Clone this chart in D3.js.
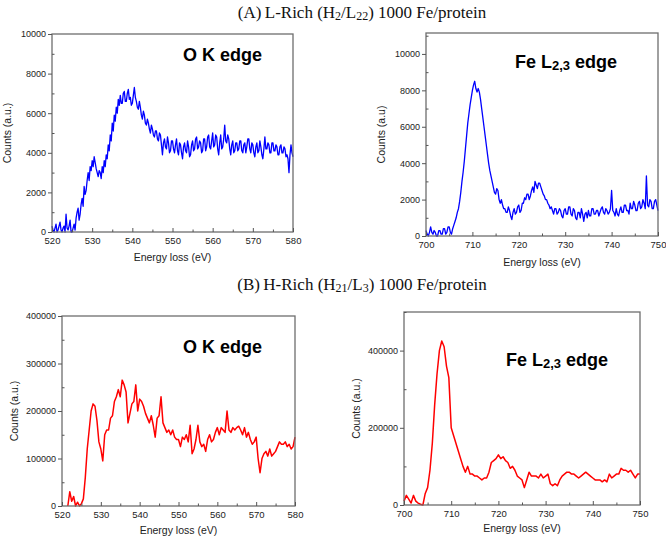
<!DOCTYPE html>
<html><head><meta charset="utf-8">
<script src="https://cdn.jsdelivr.net/npm/d3@7"></script>
<style>body{margin:0;background:#fff}svg{display:block}</style>
</head><body>
<svg id="c" width="666" height="537"></svg>
<script>
// ---- Data ----
const titleA = "(A)\u2009L-Rich (H<sub>2</sub>/L<sub>22</sub>) 1000 Fe/protein";
const titleB = "(B)\u2009H-Rich (H<sub>21</sub>/L<sub>3</sub>) 1000 Fe/protein";

// Panel A1: O K edge (blue), energies start 520, step 0.25 eV
const a1Start = 520, a1Step = 0.25;
const a1Counts = [
300,100,0,200, 400,0,100,300, 500,100,0,200, 300,0,900,200, 100,300,600,0,
0,200,400,100, 700,1000,1200,600, 900,1400,1700,1300, 2300,1900,2100,2600, 3000,2600,3300,3100,
3600,3300,3800,3500, 3200,3000,2800,3100, 3000,2700,3300,3000, 3600,3300,3900,3700, 4400,4100,4900,4600,
5500,5100,5900,5600, 6300,6000,6700,6400, 6900,6500,6500,7000, 7100,6600,6600,7000, 7200,6700,6800,6400,
6500,6900,7300,6800, 6600,6300,6200,6600, 6300,5900,5700,6100, 5900,5500,5400,5700, 5500,5200,5000,5400,
5200,4900,4800,5100, 5100,4700,4600,5000, 4900,4400,3900,4500, 4700,4300,4200,4800, 4500,4000,4100,4600,
4600,4200,4000,4400, 4700,4100,3900,4500, 4400,4000,3700,4300, 4500,4100,4000,4600, 4300,3800,3900,4400,
4600,4100,4200,4700, 4800,4200,4300,4600, 4500,4000,4100,4700, 4700,4100,4300,4800, 4900,4300,4200,4600,
5000,4300,4400,4900, 4800,4200,3900,4500, 4900,4200,4300,4700, 5400,4600,4500,4900, 4700,4200,3900,4400,
4600,4000,4100,4500, 4500,4100,4200,4600, 4600,4100,4000,4400, 4500,4000,4300,4700, 4700,4200,4000,4500,
4400,4000,3800,4300, 4500,4000,4100,4600, 4300,3900,3700,4200, 4800,4200,4200,4500, 4400,4000,4000,4500,
4500,4100,4100,4400, 4300,3900,3900,4300, 4400,4000,4000,4300, 4200,3800,3900,3700, 3000,3900,4400,4000,
3800];
const a1XTicks = [520,530,540,550,560,570,580];
const a1YTicks = [0,2000,4000,6000,8000,10000];

// Panel A2: Fe L2,3 edge (blue), energies start 700, step 0.25 eV
const a2Start = 700, a2Step = 0.25;
const a2Counts = [
300,100,0,200, 500,200,100,300, 200,0,0,300, 300,100,100,400, 400,100,200,500,
500,200,100,400, 600,800,1000,1300, 1500,1900,2400,3000, 3500,4100,4800,5500, 6200,6700,7200,7600,
8000,8300,8500,8100, 7900,8100,7900,7500, 7000,6500,6000,5500, 5000,4500,4000,3600, 3300,3000,2700,2400,
2300,2600,2500,2000, 1800,2000,1700,1500, 1500,1300,1300,1600, 1400,1100,900,1300, 1500,1200,1300,1600,
1700,1300,1400,1800, 1800,2100,2000,2300, 2300,2000,2200,2500, 2700,2400,3000,2800, 2600,2900,2900,2700,
2500,2300,2200,2000, 2000,1800,1700,1500, 1600,1400,1200,1500, 1500,1200,1300,1500, 1400,1100,1000,1400,
1500,1200,1200,1600, 1600,1200,1100,1500, 1400,1000,900,1300, 1300,1000,1500,1200, 800,1200,1300,1000,
1400,1100,1100,1500, 1500,1200,1200,1400, 1400,1100,1300,1500, 1600,1300,1200,1500, 1400,1200,1300,1500,
2500,1400,1300,1100, 1500,1200,1100,1400, 1600,1300,1300,1700, 1700,1400,1400,1200, 1800,1500,1500,1900,
1700,1400,1400,1800, 1900,1500,1600,2000, 1800,1500,3300,1700, 1600,2000,1900,1500, 1500,1900,2000,1700,
1400];
const a2XTicks = [700,710,720,730,740,750];
const a2YTicks = [0,2000,4000,6000,8000,10000];

// Panel B1: O K edge (red), energies start 521.5, step 0.5 eV
const b1Start = 521.5, b1Step = 0.5;
const b1Counts = [0,30000,10000,20000,0,8000,0,5000,15000,60000,120000,160000,200000,215000,210000,180000,
135000,120000,95000,150000,160000,160000,185000,190000,220000,230000,245000,230000,265000,255000,240000,
175000,195000,215000,220000,255000,200000,225000,220000,210000,195000,185000,175000,190000,170000,145000,
185000,190000,230000,175000,165000,155000,160000,150000,160000,145000,140000,140000,125000,145000,140000,
150000,135000,170000,110000,120000,140000,170000,135000,125000,130000,115000,140000,150000,135000,140000,
155000,165000,150000,165000,160000,155000,200000,160000,155000,165000,160000,165000,168000,160000,150000,
165000,145000,155000,140000,130000,135000,145000,100000,70000,100000,110000,115000,105000,120000,105000,
110000,115000,125000,135000,130000,130000,135000,125000,130000,120000,125000,145000];
const b1XTicks = [520,530,540,550,560,570,580];
const b1YTicks = [0,100000,200000,300000,400000];

// Panel B2: Fe L2,3 edge (red), energies start 700, step 0.5 eV
const b2Start = 700, b2Step = 0.5;
const b2Counts = [10000,25000,15000,5000,25000,10000,5000,2000,0,30000,45000,90000,160000,260000,340000,
400000,425000,410000,360000,330000,200000,180000,160000,140000,120000,100000,85000,100000,80000,80000,
75000,75000,70000,65000,70000,70000,85000,110000,115000,120000,130000,120000,125000,115000,110000,95000,
100000,90000,75000,70000,65000,45000,65000,85000,75000,75000,75000,70000,80000,70000,75000,80000,55000,
50000,55000,50000,65000,75000,80000,85000,85000,80000,80000,75000,70000,75000,80000,85000,80000,75000,
70000,65000,65000,65000,60000,65000,60000,80000,70000,75000,80000,80000,95000,90000,90000,85000,90000,
80000,70000,80000,80000];
const b2XTicks = [700,710,720,730,740,750];
const b2YTicks = [0,200000,400000];

// ---- Drawing ----
const svg = d3.select("#c");

function title(html, y) {
  svg.append("foreignObject").attr("x", 0).attr("y", y).attr("width", 666).attr("height", 26)
    .append("xhtml:div")
    .style("font-family", "'Liberation Serif','Times New Roman',serif")
    .style("font-size", "17px").style("text-align", "center").style("color", "#111")
    .style("padding-left", "58px").style("white-space", "nowrap")
    .html(html.replace(/<sub>/g, "<sub style='font-size:12px;vertical-align:-2px'>"));
}
title(titleA, 3);
title(titleB, 275);

function panel(cfg) {
  const {left, right, top, bottom, xDom, yDom, xTicks, yTicks, xMinor, yMinor,
         start, step, counts, color, lw, label, labelX, ylab, ylabX, xlabY} = cfg;
  const x = d3.scaleLinear().domain(xDom).range([left, right]);
  const y = d3.scaleLinear().domain(yDom).range([bottom, top]);
  const g = svg.append("g");
  const data = counts.map((c, i) => [start + i * step, c]);

  g.append("path").datum(data)
    .attr("fill", "none").attr("stroke", color).attr("stroke-width", lw)
    .attr("stroke-linejoin", "round")
    .attr("d", d3.line().x(d => x(d[0])).y(d => y(Math.max(yDom[0], d[1]))));

  g.append("rect").attr("x", left).attr("y", top).attr("width", right - left).attr("height", bottom - top)
    .attr("fill", "none").attr("stroke", "#6e6e6e").attr("stroke-width", 1.3);

  const font = "Arial, 'Liberation Sans', sans-serif";
  const xa = g.append("g").attr("transform", `translate(0,${bottom})`)
    .call(d3.axisBottom(x).tickValues(xTicks).tickSize(-4).tickPadding(5).tickFormat(d3.format("d")));
  xa.select(".domain").remove();
  xa.selectAll("line").attr("stroke", "#555");
  xa.selectAll("text").attr("font-family", font).attr("font-size", 9.5).attr("fill", "#222");
  const xm = g.append("g").attr("transform", `translate(0,${bottom})`)
    .call(d3.axisBottom(x).tickValues(xMinor).tickSize(-2.5).tickFormat(""));
  xm.select(".domain").remove(); xm.selectAll("line").attr("stroke", "#555");

  const ya = g.append("g").attr("transform", `translate(${left},0)`)
    .call(d3.axisLeft(y).tickValues(yTicks).tickSize(4).tickPadding(2).tickFormat(d3.format("d")));
  ya.select(".domain").remove();
  ya.selectAll("line").attr("stroke", "#555");
  ya.selectAll("text").attr("font-family", font).attr("font-size", 9).attr("fill", "#222");
  const ym = g.append("g").attr("transform", `translate(${left},0)`)
    .call(d3.axisLeft(y).tickValues(yMinor).tickSize(-2.5).tickFormat(""));
  ym.select(".domain").remove(); ym.selectAll("line").attr("stroke", "#555");

  const t = g.append("text").attr("x", label[0]).attr("y", label[1])
    .attr("font-family", font).attr("font-weight", "bold").attr("font-size", 18).attr("fill", "#000");
  if (labelX === "Fe") {
    t.append("tspan").text("Fe L");
    t.append("tspan").attr("font-size", 13).attr("dy", 2).text("2,3");
    t.append("tspan").attr("dy", -2).text(" edge");
  } else {
    t.text("O K edge");
  }

  g.append("text").attr("transform", `translate(${ylabX},${(top + bottom) / 2}) rotate(-90)`)
    .attr("text-anchor", "middle").attr("dy", "0.35em")
    .attr("font-family", font).attr("font-size", 10.5).attr("fill", "#222").text(ylab);
  g.append("text").attr("x", (left + right) / 2).attr("y", xlabY).attr("text-anchor", "middle").attr("dy", "0.35em")
    .attr("font-family", font).attr("font-size", 10.5).attr("fill", "#222").text("Energy loss (eV)");
}

const range = (a, b, s) => d3.range(a, b + s / 2, s);

panel({left: 52, right: 293, top: 34, bottom: 232, xDom: [520, 580], yDom: [0, 10000],
  xTicks: a1XTicks, yTicks: a1YTicks, xMinor: range(525, 575, 10), yMinor: range(1000, 9000, 2000),
  start: a1Start, step: a1Step, counts: a1Counts, color: "#0000ff", lw: 1.3,
  label: [183, 61], labelX: "O", ylab: "Counts (a.u.)", ylabX: 7, xlabY: 257});

panel({left: 426, right: 658, top: 33, bottom: 236, xDom: [700, 750], yDom: [0, 11150],
  xTicks: a2XTicks, yTicks: a2YTicks, xMinor: range(705, 745, 10), yMinor: range(1000, 11000, 2000),
  start: a2Start, step: a2Step, counts: a2Counts, color: "#0000ff", lw: 1.3,
  label: [515, 68], labelX: "Fe", ylab: "Counts (a.u)", ylabX: 381, xlabY: 262});

panel({left: 62, right: 295, top: 316, bottom: 506, xDom: [520, 580], yDom: [0, 400000],
  xTicks: b1XTicks, yTicks: b1YTicks, xMinor: range(525, 575, 10), yMinor: range(50000, 350000, 100000),
  start: b1Start, step: b1Step, counts: b1Counts, color: "#ff0000", lw: 1.5,
  label: [183, 353], labelX: "O", ylab: "Counts (a.u.)", ylabX: 14, xlabY: 530});

panel({left: 404, right: 640, top: 312, bottom: 505, xDom: [700, 750], yDom: [0, 500000],
  xTicks: b2XTicks, yTicks: b2YTicks, xMinor: range(705, 745, 10), yMinor: range(100000, 500000, 200000),
  start: b2Start, step: b2Step, counts: b2Counts, color: "#ff0000", lw: 1.5,
  label: [506, 366], labelX: "Fe", ylab: "Counts (a.u.)", ylabX: 356, xlabY: 528});
</script>
</body></html>
